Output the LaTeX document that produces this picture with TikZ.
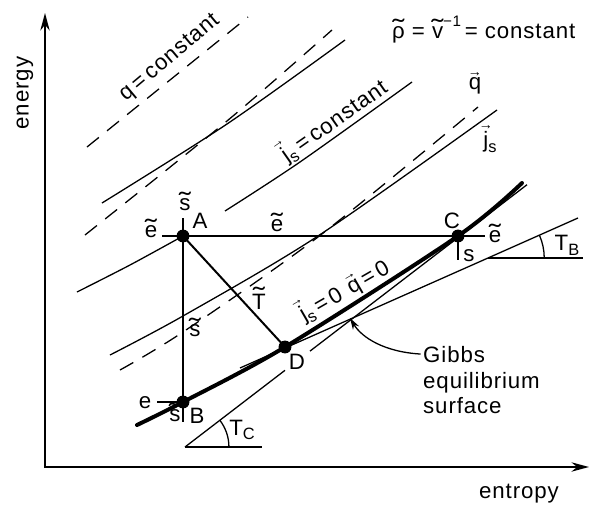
\documentclass[tikz,border=0pt]{standalone}
\usepackage{fontspec}
\usepackage{graphicx}
\setmainfont{Liberation Sans}[LetterSpace=4]
\usetikzlibrary{arrows.meta}
\newcommand\lsub[1]{\raisebox{-0.4ex}{\fontsize{14}{14}\selectfont #1}}
\newcommand\tl[1]{{\setbox0\hbox{#1}\setbox2\hbox{x}%
  \ooalign{\copy0\cr\hidewidth\raisebox{\dimexpr\ht0-\ht2+0.5pt\relax}{\scalebox{1.6}[1.15]{\char"02DC}}\hidewidth\cr}}}
\newcommand\vc[1]{{\setbox0\hbox{#1}%
  \ooalign{\copy0\cr\hidewidth\raisebox{\dimexpr\ht0+1.5pt\relax}{\fontsize{12}{12}\selectfont →}\hidewidth\cr}}}
\tikzset{
  curve/.style={line width=1.1pt},
  qline/.style={line width=1.1pt,dash pattern=on 13pt off 9pt},
  gibbs/.style={line width=3.4pt,line cap=round},
  cons/.style={line width=1.7pt},
  axis/.style={line width=1.5pt,{Stealth[length=15pt,width=8pt]}-{Stealth[length=15pt,width=8pt]}},
  lbl/.style={font=\fontsize{19}{22}\selectfont,inner sep=0pt},
}

\begin{document}
\begin{tikzpicture}[x=0.03cm,y=-0.03cm,every node/.style={lbl}]
  \useasboundingbox (0,0) rectangle (589,504);
  % axes
  \coordinate (ytop) at (45,13);
  \coordinate (o) at (45,467);
  \coordinate (xend) at (589,467);
  \draw[axis] (ytop) -- (o) -- (xend);
  \node[rotate=90] (en) at (25,93) {energy};
  \node[anchor=base] (ent) at (519,498) {entropy};
  % states
  \coordinate (A) at (183,236);
  \coordinate (B) at (183,402);
  \coordinate (C) at (458,236);
  \coordinate (D) at (285,347);
  \coordinate (eA) at (162,236);
  \coordinate (eC) at (485,236);
  \coordinate (sA) at (183,218);
  \coordinate (sB) at (183,422);
  \coordinate (eB) at (157,402);
  \coordinate (sC) at (458,260);
  % q = const (dashed) and j_s = const (solid)
  \draw[qline] plot[smooth] coordinates {(87,147) (170,80) (248,17)};
  \draw[curve] plot[smooth] coordinates {(102,203) (227,124) (345,40)};
  \draw[qline] plot[smooth] coordinates {(85,235) (227,121) (332,30)};
  \draw[curve] plot[smooth] coordinates {(77,292) (130,265) (A)};
  \draw[curve] plot[smooth] coordinates {(225,211) (300,162) (412,82)};
  \draw[curve] plot[smooth] coordinates {(110,355) (183,316) (318,236) (497,110)};
  \draw[qline] plot[smooth] coordinates {(120,370) (183,332) (318,237) (478,107)};
  % tangents
  \coordinate (tc) at (185,447);
  \coordinate (tb) at (488,258);
  \draw[curve] (tc) -- (285,370.3) (310,351.1) -- (527,184.7);
  \draw[curve] (tc) -- (262,447);
  \draw[curve] (tc) ++(37.5pt,0) arc[start angle=0,end angle=37.5,radius=37.5pt];
  \draw[curve] (240,368) -- (tb) -- (578,218);
  \draw[curve] (tb) -- (583,258);
  \draw[curve] (tb) ++(48pt,0) arc[start angle=0,end angle=23.9,radius=48pt];
  % Gibbs surface
  \draw[gibbs] plot[smooth] coordinates {(137,425) (B) (D) (C) (522,183)};
  % constructions
  \draw[cons] (eA) -- (A) -- (C) -- (eC);
  \draw[cons] (sA) -- (A) -- (B) -- (sB);
  \draw[cons] (A) -- (D);
  \draw[cons] (eB) -- (B);
  \draw[cons] (C) -- (sC);
  \foreach \p in {A,B,C,D} { \fill (\p) circle[radius=5.5pt]; }
  % labels
  \node (sAl) at (185,205) {\tl{s}};
  \node (Al) at (200,221) {A};
  \node (eAl) at (151,232) {\tl{e}};
  \node (eml) at (277,226) {\tl{e}};
  \node (eCl) at (495,237) {\tl{e}};
  \node (Cl) at (452,221) {C};
  \node (sCl) at (469,256) {s};
  \node (Tl) at (259,302) {\tl{T}};
  \node (sml) at (195,331) {\tl{s}};
  \node (Dl) at (297,362) {D};
  \node (Bl) at (197,416) {B};
  \node (sBl) at (175,416) {\tl{s}};
  \node (eBl) at (145,403) {e};
  \node (TCl) at (242,430) {T\lsub{C}};
  \node (TBl) at (567,245) {T\lsub{B}};
  \node (ql) at (475,84) {\vc{q}};
  \node (jl) at (490,142) {\vc{j}\lsub{s}};
  \node[rotate=40] (qcl) at (170,58) {q\,=\,constant};
  \node[rotate=35] (jcl) at (335,122) {\vc{j}\lsub{s}\,=\,constant};
  \node[rotate=30] (eql) at (345,292) {\vc{j}\lsub{s}\,=\,0\hspace{0.4em}\vc{q}\,=\,0};
  \node[anchor=base west] (rho) at (392,38) {\tl{ρ} = \tl{v}\raisebox{1ex}{\fontsize{13}{13}\selectfont −1}\,= constant};
  \node[anchor=base west] (gb1) at (423,362) {Gibbs};
  \node[anchor=base west] (gb2) at (423,388) {equilibrium};
  \node[anchor=base west] (gb3) at (423,413) {surface};
  \coordinate (gtip) at (350,318);
  \draw[curve,-{Stealth[length=10pt,width=6pt]}] ([xshift=-2pt]gb1.west) .. controls (385,352) and (362,338) .. (gtip);
\end{tikzpicture}
\end{document}
